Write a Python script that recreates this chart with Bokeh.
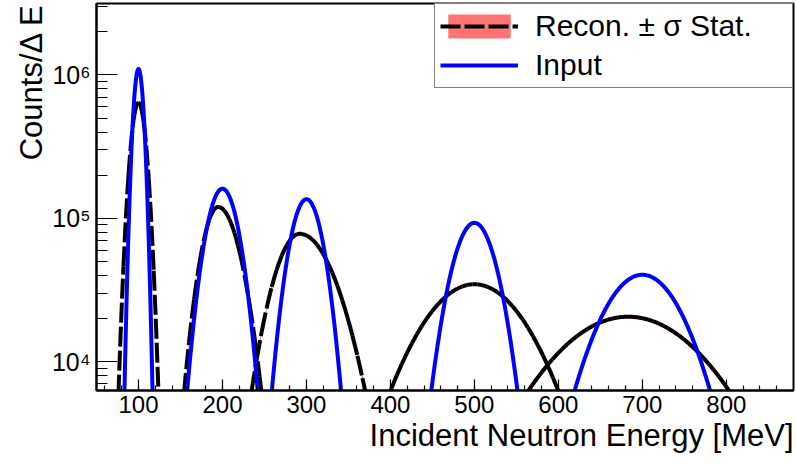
import numpy as np
from bokeh.plotting import figure
from bokeh.models import (FixedTicker, CustomJSTickFormatter, Legend, LegendItem,
                          Title)
from bokeh.embed import file_html
from bokeh.resources import INLINE

# ---------------- data ----------------
# Reconstructed spectrum: one peak per beam energy (asymmetric Gaussian shapes)
recon_center = [100.0, 195.0, 292.0, 500.0, 683.0]          # MeV
recon_peak = [6.4e5, 1.2e5, 7.8e4, 3.47e4, 2.06e4]          # counts / dE at the maximum
recon_sigma_lo = [7.8, 16.7, 25.5, 54.0, 77.0]              # MeV, low-energy side
recon_sigma_hi = [7.8, 21.1, 34.7, 54.0, 78.0]              # MeV, high-energy side
stat_scale = 4.0                                            # sigma_stat = stat_scale * sqrt(N)

# Input spectrum
input_center = [100.0, 200.0, 300.0, 500.0, 700.0]
input_peak = [1.1e6, 1.61e5, 1.36e5, 9.3e4, 4.04e4]
input_sigma = [5.2, 16.5, 16.6, 22.1, 41.8]

# axes
x_major_ticks = [100, 200, 300, 400, 500, 600, 700, 800]
y_major_ticks = [1e4, 1e5, 1e6]
y_tick_labels = ["10\u2074", "10\u2075", "10\u2076"]

# ---------------- curve construction ----------------
SEG_W = 6.0      # MeV per drawn segment of the reconstructed curve
SUB = 10         # sub-steps per segment


def shape(e, c, a, slo, shi):
    s = np.where(e < c, slo, shi)
    return a * np.exp(-0.5 * ((e - c) / s) ** 2)


rec_xs, rec_ys = [], []
band_xs, band_ys = [], []
for c, a, slo, shi in zip(recon_center, recon_peak, recon_sigma_lo, recon_sigma_hi):
    e0, e1 = c - 4.6 * slo, c + 4.6 * shi
    nseg = int(np.ceil((e1 - e0) / SEG_W))
    for k in range(nseg):
        e = np.linspace(e0 + k * SEG_W, e0 + (k + 1) * SEG_W, SUB + 1)
        rec_xs.append(e.tolist())
        rec_ys.append(shape(e, c, a, slo, shi).tolist())
    ef = np.linspace(e0, e1, 600)
    yf = shape(ef, c, a, slo, shi)
    err = stat_scale * np.sqrt(yf)
    band_xs.append(np.concatenate([ef, ef[::-1]]).tolist())
    band_ys.append(np.concatenate([yf + err, np.maximum(yf - err, 1.0)[::-1]]).tolist())

inp_xs, inp_ys = [], []
for c, a, s in zip(input_center, input_peak, input_sigma):
    e = np.linspace(c - 4.6 * s, c + 4.6 * s, 500)
    inp_xs.append(e.tolist())
    inp_ys.append(shape(e, c, a, s, s).tolist())

# ---------------- figure ----------------
FONT = "Liberation Sans"
p = figure(width=796, height=466, x_range=(50, 880), y_range=(6300, 3.15e6),
           y_axis_type="log", output_backend="svg", toolbar_location=None,
           min_border_left=96, min_border_right=3, min_border_top=3,
           min_border_bottom=76)
p.grid.visible = False
p.outline_line_color = "black"
p.outline_line_width = 2
p.background_fill_color = "white"
p.border_fill_color = "white"

band_r = p.patches(xs=band_xs, ys=band_ys, fill_color="#ff0000", fill_alpha=0.55,
                   line_color=None)
recon_r = p.multi_line(xs=rec_xs, ys=rec_ys, line_color="black", line_width=4,
                       line_dash="20 4", line_cap="butt")
input_r = p.multi_line(xs=inp_xs, ys=inp_ys, line_color="#0000ff", line_width=4)

# x axis
xa = p.xaxis[0]
xa.ticker = FixedTicker(ticks=x_major_ticks, minor_ticks=list(range(60, 880, 20)))
xa.major_tick_in = 11
xa.major_tick_out = 0
xa.minor_tick_in = 5
xa.minor_tick_out = 0
xa.axis_line_width = 2
xa.major_tick_line_width = 1.2
xa.minor_tick_line_width = 1.2
xa.major_label_text_font = FONT
xa.major_label_text_font_size = "24px"
xa.major_label_text_color = "black"
xa.major_label_standoff = 5

# y axis
ya = p.yaxis[0]
ya.ticker = FixedTicker(ticks=y_major_ticks,
                        minor_ticks=[k * 10.0 ** ex for ex in (3, 4, 5, 6) for k in range(2, 10)])
ya.formatter = CustomJSTickFormatter(args=dict(vals=y_major_ticks, labels=y_tick_labels), code="""
    let best = 0, bd = 1e9;
    for (let i = 0; i < vals.length; i++) {
        const d = Math.abs(Math.log10(tick) - Math.log10(vals[i]));
        if (d < bd) { bd = d; best = i; }
    }
    return labels[best];
""")
ya.major_tick_in = 21
ya.major_tick_out = 0
ya.minor_tick_in = 11
ya.minor_tick_out = 0
ya.axis_line_width = 2
ya.major_tick_line_width = 1.2
ya.minor_tick_line_width = 1.2
ya.major_label_text_font = FONT
ya.major_label_text_font_size = "25px"
ya.major_label_text_color = "black"
ya.major_label_standoff = 6

# axis titles
xt = Title(text="Incident Neutron Energy [MeV]", align="right", text_font=FONT,
           text_font_size="31px", text_font_style="normal", text_color="black", standoff=0)
p.add_layout(xt, "below")
yt = Title(text="Counts/\u0394 E", align="right", text_font=FONT,
           text_font_size="31px", text_font_style="normal", text_color="black", standoff=0)
p.add_layout(yt, "left")

# legend
legend = Legend(items=[LegendItem(label="Recon. \u00b1 \u03c3 Stat.", renderers=[band_r, recon_r]),
                       LegendItem(label="Input", renderers=[input_r])],
                location="top_right", margin=0, padding=5, spacing=5,
                glyph_width=78, glyph_height=30, label_height=30, label_width=252,
                label_standoff=17, label_text_font=FONT, label_text_font_size="30px",
                label_text_color="black", border_line_color="black",
                border_line_width=1.5, background_fill_color="white",
                background_fill_alpha=1.0)
p.add_layout(legend)

open("out.html", "w").write(file_html(p, INLINE))
